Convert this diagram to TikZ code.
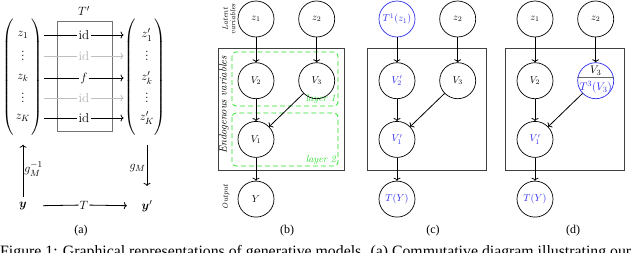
\documentclass[tikz,border=0pt]{standalone}
\usepackage{fontspec}
\newfontfamily\capfont{Liberation Serif}
\usepackage{amsmath}
\usepackage{amssymb}
\usetikzlibrary{arrows.meta,positioning}

\definecolor{layergreen}{RGB}{40,225,40}
\definecolor{intblue}{RGB}{45,45,235}

\begin{document}
\begin{tikzpicture}[
    x=1pt, y=-1pt,
    var/.style={circle, draw, line width=0.7pt, minimum size=36pt, inner sep=0pt, font=\fontsize{10}{12}\selectfont},
    hit/.style={text=intblue},
    frame/.style={draw=black!75, line width=0.8pt},
    layer/.style={draw=layergreen, dash pattern=on 5pt off 3pt, rounded corners=4pt, line width=0.8pt},
    layername/.style={text=layergreen, font=\fontsize{10}{12}\selectfont\itshape, anchor=east, inner sep=1pt},
    side/.style={rotate=90, align=center, font=\fontsize{7.5}{7.5}\selectfont\itshape},
    map/.style={font=\fontsize{13}{15}\selectfont, inner sep=1pt},
    dots/.style={map, inner sep=0pt},
    ends/.style={map, minimum width=40pt},
    faded/.style={map, text=black!30},
    sublabel/.style={font=\capfont\fontsize{12}{14}\selectfont},
    arrow/.style={-{To[length=3pt, width=7pt]}, line width=0.8pt},
    fadedarrow/.style={arrow, draw=black!25}
]
\useasboundingbox (0,0) rectangle (640,252);

% (a)
\draw[draw=black!55, line width=0.8pt] (57,21) rectangle (112,131);
\node[map] (Tp) at (84,11) {$T'$};

\node[map] (z1) at (23,35) {$z_1$};
\node[dots] (zd1) at (23,53) {$\vdots$};
\node[map] (zk) at (23,78) {$z_k$};
\node[dots] (zd2) at (23,95) {$\vdots$};
\node[map] (zK) at (23,118) {$z_K$};
\node[map] (lpin) at (9,77) {$\left(\vrule height 55pt depth 55pt width 0pt\right.$};
\node[map] (rpin) at (37,77) {$\left.\vrule height 55pt depth 55pt width 0pt\right)$};

\node[map] (zp1) at (147,35) {$z'_1$};
\node[dots] (zpd1) at (147,53) {$\vdots$};
\node[map] (zpk) at (147,78) {$z'_k$};
\node[dots] (zpd2) at (147,95) {$\vdots$};
\node[map] (zpK) at (147,118) {$z'_K$};
\node[map] (lpout) at (131,77) {$\left(\vrule height 55pt depth 55pt width 0pt\right.$};
\node[map] (rpout) at (160,77) {$\left.\vrule height 55pt depth 55pt width 0pt\right)$};

\node[map] (r1) at (84,35) {id};
\node[faded] (r2) at (84,56) {id};
\node[map] (r3) at (84,78) {$f$};
\node[faded] (r4) at (84,98) {id};
\node[map] (r5) at (84,118) {id};

\draw[arrow] (rpin.east |- r1) -- (r1) -- (lpout.west |- r1);
\draw[fadedarrow] (rpin.east |- r2) -- (r2) -- (lpout.west |- r2);
\draw[arrow] (rpin.east |- r3) -- (r3) -- (lpout.west |- r3);
\draw[fadedarrow] (rpin.east |- r4) -- (r4) -- (lpout.west |- r4);
\draw[arrow] (rpin.east |- r5) -- (r5) -- (lpout.west |- r5);

\node[ends] (yin) at (23,206) {$\boldsymbol{y}$};
\node[ends] (yout) at (147,206) {$\boldsymbol{y}'$};
\node[map] (Tmap) at (84,205) {$T$};
\draw[arrow] (yin) -- (Tmap) -- (yout);

\draw[arrow, shorten <=4pt, shorten >=8pt] (yin) -- node[map, right] (ginv) {$g_M^{-1}$} (yin |- lpin.south);
\draw[arrow, shorten <=8pt, shorten >=13pt] (yout |- lpout.south) -- node[map, left] (gfwd) {$g_M$} (yout);

\node[sublabel] (la) at (81,231) {(a)};

% (b)
\draw[frame] (218,48) rectangle (344,170);
\draw[layer] (232,52) rectangle (338,106);
\draw[layer] (232,113) rectangle (338,166);
\node[layername] (l1) at (337,99) {layer 1};
\node[layername] (l2) at (337,160) {layer 2};

\node[var] (bz1) at (256,19) {$z_1$};
\node[var, right=24pt of bz1] (bz2) {$z_2$};
\node[var, below=25pt of bz1] (bv2) {$V_2$};
\node[var, below=25pt of bz2] (bv3) {$V_3$};
\node[var, below=22pt of bv2] (bv1) {$V_1$};
\node[var, below=23pt of bv1] (by) {$Y$};

\node[side] (latent) at (229,19) {Latent\\variables};
\node[side, font=\fontsize{10.5}{11}\selectfont\itshape] (endo) at (224,105) {Endogenous variables};
\node[side] (outp) at (226,197) {Output};

\draw[arrow] (bz1) -- (bv2);
\draw[arrow] (bz2) -- (bv3);
\draw[arrow] (bv2) -- (bv1);
\draw[arrow] (bv3) -- (bv1);
\draw[arrow] (bv1) -- (by);

\node[sublabel] (lb) at (287,231) {(b)};

% (c)
\draw[frame] (367,48) rectangle (486,170);

\node[var, hit, draw=intblue] (cz1) at (397,19) {$T^1(z_1)$};
\node[var, right=24pt of cz1] (cz2) {$z_2$};
\node[var, hit, below=25pt of cz1] (cv2) {$V'_2$};
\node[var, below=25pt of cz2] (cv3) {$V_3$};
\node[var, hit, below=22pt of cv2] (cv1) {$V'_1$};
\node[var, hit, below=23pt of cv1] (cy) {$T(Y)$};

\draw[arrow] (cz1) -- (cv2);
\draw[arrow] (cz2) -- (cv3);
\draw[arrow] (cv2) -- (cv1);
\draw[arrow] (cv3) -- (cv1);
\draw[arrow] (cv1) -- (cy);

\node[sublabel] (lc) at (433,231) {(c)};

% (d)
\draw[frame] (505,48) rectangle (624,170);

\node[var] (dz1) at (535,19) {$z_1$};
\node[var, right=24pt of dz1] (dz2) {$z_2$};
\node[var, below=25pt of dz1] (dv2) {$V_2$};
\node[var, draw=intblue, below=25pt of dz2] (dv3) {};
\node[var, hit, below=22pt of dv2] (dv1) {$V'_1$};
\node[var, hit, below=23pt of dv1] (dy) {$T(Y)$};
\draw[black!60, line width=0.8pt] ([yshift=3pt]dv3.west) -- ([yshift=3pt]dv3.east);
\node[font=\fontsize{11}{12}\selectfont, inner sep=0pt] (dv3old) at ([yshift=10pt]dv3.center) {$V_3$};
\node[font=\fontsize{11}{12}\selectfont, hit, inner sep=0pt] (dv3new) at ([yshift=-7pt]dv3.center) {$T^3(V_3)$};

\draw[arrow] (dz1) -- (dv2);
\draw[arrow] (dz2) -- (dv3);
\draw[arrow] (dv2) -- (dv1);
\draw[arrow] (dv3) -- (dv1);
\draw[arrow] (dv1) -- (dy);

\node[sublabel] (ld) at (573,231) {(d)};

\node[font=\capfont\fontsize{15.8}{18}\selectfont, anchor=base west, inner sep=0pt] (cap) at (0,256) {Figure 1: Graphical representations of generative models. (a) Commutative diagram illustrating our};
\end{tikzpicture}
\end{document}
